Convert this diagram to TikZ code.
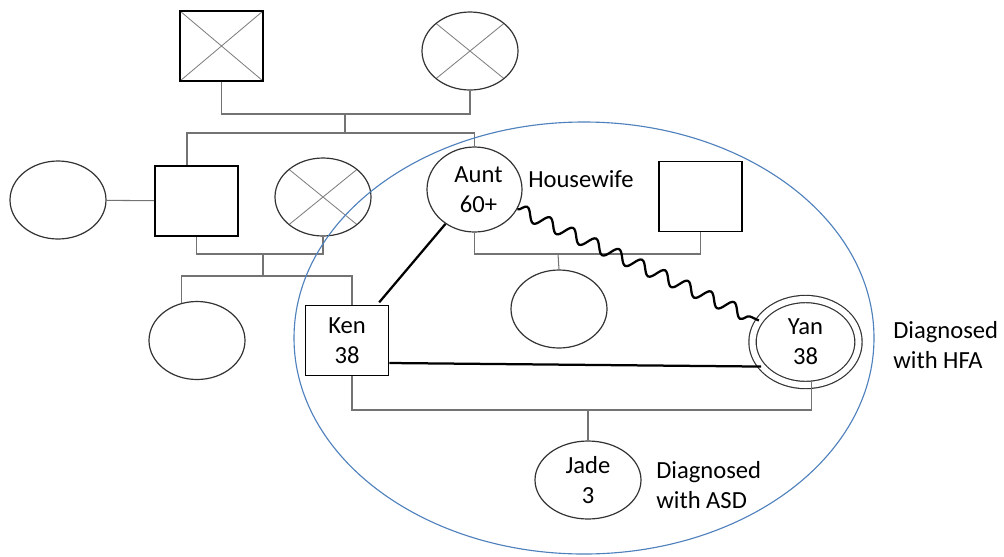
\documentclass[tikz,border=0pt]{standalone}
\usepackage{fontspec}
\setmainfont{Carlito}
\usetikzlibrary{shapes.geometric, decorations.pathmorphing}
\definecolor{circleblue}{RGB}{79,129,189}

\begin{document}
\begin{tikzpicture}
	[x=0.25mm, y=-0.25mm,
	 font=\fontsize{17.5}{21.3}\selectfont,
	 male/.style={rectangle, draw, line width=1.4pt, minimum width=20.75mm, minimum height=17.5mm, align=center, inner sep=1pt},
	 female/.style={ellipse, draw=black!80, line width=0.85pt, minimum width=24mm, minimum height=19.5mm, align=center, inner sep=0pt},
	 dead/.style={path picture={\draw[black!50, line width=0.6pt] (path picture bounding box.south west) -- (path picture bounding box.north east) (path picture bounding box.north west) -- (path picture bounding box.south east);}},
	 link/.style={draw=black!55, line width=0.75pt},
	 bond/.style={line width=1.6pt},
	 note/.style={align=left, inner sep=0pt, anchor=west}]

	\path[use as bounding box, fill=white] (0,0) rectangle (1004,556);

	% generations
	\node[male, dead] (gpa) at (221.5,46) {};
	\node[female, dead] (gma) at (470,51) {};
	\node[female] (exwife) at (58,200) {};
	\node[male] (dad) at (196.5,201) {};
	\node[female, dead] (mum) at (323,197) {};
	\node[female, minimum width=23.75mm, minimum height=21.25mm] (aunt) at (474.5,189.5) {\hspace{2mm}Aunt\\\hspace{2mm}60+};
	\node[male] (husb) at (700.5,196.5) {};
	\node[female] (cousin) at (559,309) {};
	\node[female] (sis) at (197,340.5) {};
	\node[male] (ken) at (347,340.5) {Ken\\38};
	\node[female, double, double distance=4.3pt, minimum width=26.5mm, minimum height=21.5mm] (yan) at (805.5,342) {Yan\\38};
	\node[female, minimum width=26.5mm] (jade) at (588,480) {Jade\\3};

	\node[note] (job) at (528,179) {Housewife};
	\node[note] (hfa) at (893,345) {Diagnosed\\with HFA};
	\node[note] (asd) at (656,485) {Diagnosed\\with ASD};

	% family lines
	\draw[link] (gpa.south) -- (gpa.south |- 0,114) -| (gma.south);
	\draw[link] (345,114) -- (345,133);
	\draw[link] (dad.north -| 187,0) -- (187,133) -| (aunt.north);
	\draw[link] (exwife) -- (dad);
	\draw[link] (dad.south) -- (196.5,254) -| (mum.south);
	\draw[link] (263,254) -- (263,276);
	\draw[link] (sis.112) |- (263,276) -| (ken.north -| 352,0);
	\draw[link] (aunt.south) -- (474.5,254) -| (husb.south);
	\draw[link] (558,254) -- (cousin.north);
	\draw[link] (ken.south -| 352,0) -- (352,410) -| ([xshift=1.6mm, yshift=1.4mm]yan.south);
	\draw[link] (jade.north |- 0,410) -- (jade.north);

	% relationships
	\draw[bond, shorten <=2pt] (ken) -- (aunt);
	\draw[bond] (ken.east |- 0,363) -- (yan.209);
	\draw[bond, decorate, decoration={snake, segment length=18pt, amplitude=4.5pt}] (aunt) -- (yan);

	\draw[circleblue, line width=0.8pt] (584,338) ellipse [x radius=290, y radius=216];
\end{tikzpicture}
\end{document}
